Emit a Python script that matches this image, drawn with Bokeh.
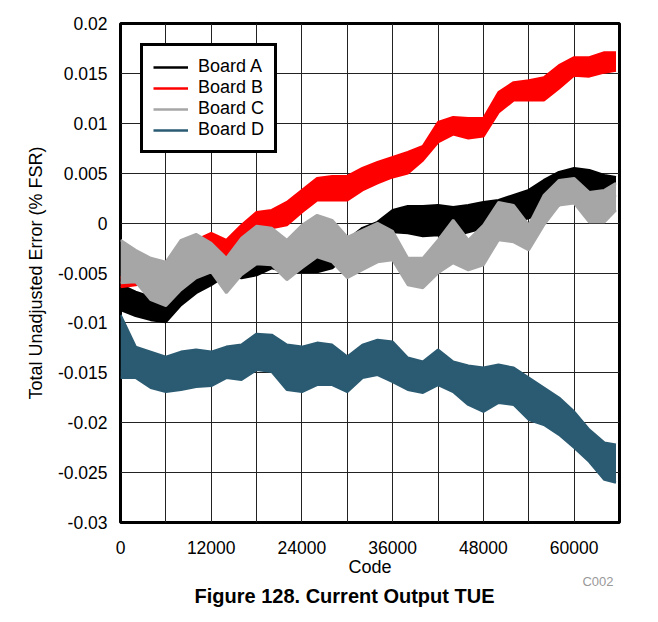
from bokeh.plotting import figure
from bokeh.models import Range1d, FixedTicker, Legend, LegendItem, Title, ColumnDataSource
from bokeh.embed import file_html
from bokeh.resources import INLINE

# ---------------- data ----------------
codes = [0, 2000, 4000, 6000, 8000, 10000, 12000, 14000, 16000, 18000,
         20000, 22000, 24000, 26000, 28000, 30000, 32000, 34000, 36000, 38000,
         40000, 42000, 44000, 46000, 48000, 50000, 52000, 54000, 56000, 58000,
         60000, 62000, 64000, 65535]

# Board A (black) band: upper / lower envelope, % FSR
board_a_upper = [-0.0062, -0.0069, -0.0074, -0.0077, -0.0052, -0.0043, -0.0039, -0.0029, -0.0035, -0.0032,
                 -0.0024, -0.0027, -0.0025, -0.0020, -0.0022, -0.0017, -0.0005, 0.0001, 0.0013, 0.0017,
                 0.0017, 0.0018, 0.0016, 0.0018, 0.0021, 0.0023, 0.0028, 0.0033, 0.0043, 0.0051,
                 0.0055, 0.0053, 0.0048, 0.0046]
board_a_lower = [-0.0087, -0.0093, -0.0097, -0.0099, -0.0082, -0.0070, -0.0062, -0.0052, -0.0055, -0.0052,
                 -0.0045, -0.0049, -0.0049, -0.0049, -0.0045, -0.0032, -0.0022, -0.0017, -0.0009, -0.0010,
                 -0.0013, -0.0012, -0.0013, -0.0009, -0.0005, -0.0002, 0.0001, 0.0005, 0.0011, 0.0018,
                 0.0023, 0.0025, 0.0025, 0.0028]

# Board B (red)
board_b_upper = [-0.0054, -0.0052, -0.0049, -0.0039, -0.0027, -0.0017, -0.0010, -0.0017, -0.0002, 0.0011,
                 0.0013, 0.0021, 0.0033, 0.0045, 0.0047, 0.0047, 0.0055, 0.0061, 0.0066, 0.0071,
                 0.0077, 0.0101, 0.0106, 0.0105, 0.0105, 0.0131, 0.0141, 0.0143, 0.0146, 0.0158,
                 0.0166, 0.0166, 0.0171, 0.0171]
board_b_lower = [-0.0064, -0.0062, -0.0059, -0.0055, -0.0045, -0.0035, -0.0032, -0.0039, -0.0022, -0.0009,
                 -0.0005, -0.0002, 0.0011, 0.0023, 0.0023, 0.0023, 0.0033, 0.0040, 0.0046, 0.0050,
                 0.0063, 0.0081, 0.0089, 0.0085, 0.0087, 0.0111, 0.0123, 0.0123, 0.0123, 0.0135,
                 0.0148, 0.0147, 0.0151, 0.0153]

# Board C (grey)
board_c_upper = [-0.0017, -0.0027, -0.0035, -0.0039, -0.0017, -0.0011, -0.0020, -0.0035, -0.0015, -0.0003,
                 -0.0005, -0.0017, -0.0002, 0.0008, 0.0003, -0.0014, -0.0007, 0.0000, -0.0008, -0.0035,
                 -0.0035, -0.0017, 0.0003, -0.0017, -0.0002, 0.0021, 0.0018, -0.0002, 0.0028, 0.0043,
                 0.0045, 0.0031, 0.0033, 0.0040]
board_c_lower = [-0.0060, -0.0059, -0.0077, -0.0083, -0.0067, -0.0055, -0.0049, -0.0070, -0.0052, -0.0041,
                 -0.0042, -0.0057, -0.0045, -0.0034, -0.0039, -0.0055, -0.0047, -0.0039, -0.0037, -0.0062,
                 -0.0065, -0.0050, -0.0040, -0.0047, -0.0042, -0.0017, -0.0019, -0.0027, -0.0002, 0.0018,
                 0.0020, 0.0001, 0.0001, 0.0013]

# Board D (blue)
board_d_upper = [-0.0092, -0.0124, -0.0129, -0.0134, -0.0129, -0.0127, -0.0129, -0.0124, -0.0122, -0.0111,
                 -0.0112, -0.0122, -0.0124, -0.0120, -0.0122, -0.0134, -0.0122, -0.0117, -0.0119, -0.0135,
                 -0.0139, -0.0127, -0.0139, -0.0143, -0.0145, -0.0142, -0.0145, -0.0155, -0.0165, -0.0175,
                 -0.0189, -0.0207, -0.0220, -0.0222]
board_d_lower = [-0.0155, -0.0155, -0.0165, -0.0169, -0.0167, -0.0164, -0.0163, -0.0155, -0.0157, -0.0147,
                 -0.0149, -0.0167, -0.0169, -0.0162, -0.0162, -0.0169, -0.0155, -0.0152, -0.0159, -0.0167,
                 -0.0170, -0.0162, -0.0169, -0.0182, -0.0189, -0.0180, -0.0182, -0.0197, -0.0202, -0.0212,
                 -0.0225, -0.0239, -0.0257, -0.0260]

series_names = ["Board A", "Board B", "Board C", "Board D"]
series_colors = ["#000000", "#FF0000", "#A6A6A6", "#2A5B72"]

x_tick_values = [0, 12000, 24000, 36000, 48000, 60000]
x_tick_labels = ["0", "12000", "24000", "36000", "48000", "60000"]
x_minor_values = [6000, 18000, 30000, 42000, 54000, 66000]
y_tick_values = [-0.03, -0.025, -0.02, -0.015, -0.01, -0.005, 0, 0.005, 0.01, 0.015, 0.02]
y_tick_labels = ["-0.03", "-0.025", "-0.02", "-0.015", "-0.01", "-0.005", "0",
                 "0.005", "0.01", "0.015", "0.02"]

FONT = "Liberation Sans"

# ---------------- figure ----------------
p = figure(frame_width=499, frame_height=499,
           min_border_left=120, min_border_right=30, min_border_top=23, min_border_bottom=20,
           x_range=Range1d(0, 66000), y_range=Range1d(-0.03, 0.02),
           output_backend="svg", toolbar_location=None,
           background_fill_color="white", border_fill_color="white")

p.outline_line_color = "black"
p.outline_line_width = 3
p.outline_line_alpha = 1

p.xaxis.ticker = FixedTicker(ticks=x_tick_values, minor_ticks=x_minor_values)
p.yaxis.ticker = FixedTicker(ticks=y_tick_values)
p.xaxis.major_label_overrides = {v: l for v, l in zip(x_tick_values, x_tick_labels)}
p.yaxis.major_label_overrides = {v: l for v, l in zip(y_tick_values, y_tick_labels)}

for ax in (p.xaxis, p.yaxis):
    ax.axis_line_color = None
    ax.major_tick_line_color = None
    ax.minor_tick_line_color = None
    ax.major_label_text_font = FONT
    ax.major_label_text_font_size = "17.5px"
    ax.major_label_text_color = "black"
    ax.axis_label_text_font = FONT
    ax.axis_label_text_font_size = "18px"
    ax.axis_label_text_font_style = "normal"
    ax.axis_label_text_color = "black"

p.xaxis.axis_label = "Code"
p.yaxis.axis_label = "Total Unadjusted Error (% FSR)"
p.xaxis.major_label_standoff = 12
p.xaxis.axis_label_standoff = 0
p.yaxis.major_label_standoff = 7
p.yaxis.axis_label_standoff = 9

p.xgrid.grid_line_color = "#222222"
p.xgrid.grid_line_width = 1
p.xgrid.minor_grid_line_color = "#222222"
p.xgrid.minor_grid_line_width = 1
p.ygrid.grid_line_color = "#222222"
p.ygrid.grid_line_width = 1

uppers = [board_a_upper, board_b_upper, board_c_upper, board_d_upper]
lowers = [board_a_lower, board_b_lower, board_c_lower, board_d_lower]

items = []
for name, color, up, lo in zip(series_names, series_colors, uppers, lowers):
    src = ColumnDataSource(dict(x=codes, y1=lo, y2=up))
    p.varea(x="x", y1="y1", y2="y2", source=src, fill_color=color)
    top_line = p.line(x="x", y="y2", source=src, line_color=color, line_width=2.5)
    p.line(x="x", y="y1", source=src, line_color=color, line_width=2.5)
    items.append(LegendItem(label=name, renderers=[top_line]))

legend = Legend(items=items, location="top_left")
legend.margin = 20
legend.padding = 10
legend.spacing = 0
legend.glyph_width = 35
legend.glyph_height = 20
legend.label_height = 20
legend.label_standoff = 10
legend.label_text_font = FONT
legend.label_text_font_size = "18px"
legend.label_text_color = "black"
legend.border_line_color = "black"
legend.border_line_width = 3
legend.border_line_alpha = 1
legend.background_fill_color = "white"
legend.background_fill_alpha = 1
p.add_layout(legend)

note = Title(text="C002", align="right", text_font=FONT, text_font_size="13px",
             text_font_style="normal", text_color="#999999", offset=6)
fig_title = Title(text="Figure 128. Current Output TUE", align="left", text_font=FONT,
                  text_font_size="20px", text_font_style="bold", text_color="black", offset=74)
for t, s in ((note, -19), (fig_title, 7)):
    try:
        t.standoff = s
    except Exception:
        pass
p.add_layout(note, "below")
p.add_layout(fig_title, "below")

open("out.html", "w").write(file_html(p, INLINE))
